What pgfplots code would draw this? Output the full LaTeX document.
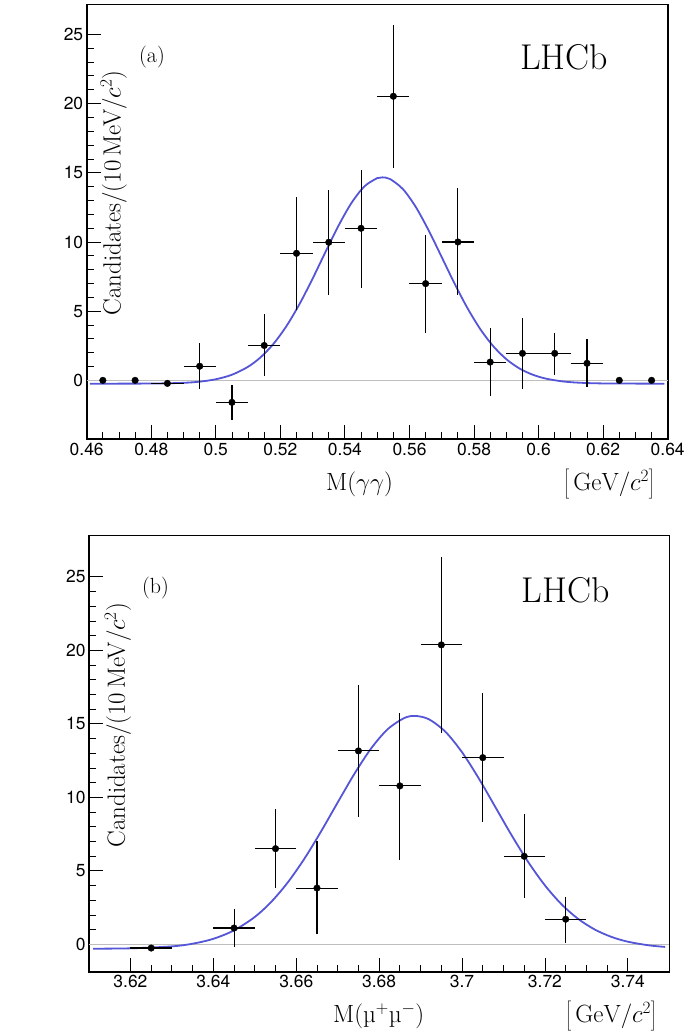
\documentclass[border=0pt]{standalone}
\usepackage{pgfplots}
\pgfplotsset{compat=1.18}
\usepackage{pgfplotstable}
\usepackage{fontspec}
\newfontfamily\helv{TeX Gyre Heros}
\definecolor{fitblue}{RGB}{85,85,215}
\definecolor{zerogray}{RGB}{190,190,190}

\pgfplotstableread{
x y ex eyp eym
0.465 0 0 0 0
0.475 0 0 0 0
0.485 -0.22 0.005 0 0
0.495 1.02 0.005 1.65 1.67
0.505 -1.59 0.005 1.23 1.27
0.515 2.52 0.005 2.24 2.21
0.525 9.18 0.005 4.05 4.06
0.535 9.98 0.005 3.81 3.83
0.545 10.99 0.005 4.24 4.31
0.555 20.53 0.005 5.17 5.18
0.565 6.99 0.005 3.54 3.55
0.575 10.00 0.005 3.90 3.85
0.585 1.32 0.005 2.48 2.45
0.595 1.95 0.005 2.57 2.60
0.605 1.95 0.005 1.49 1.57
0.615 1.23 0.005 1.73 1.71
0.625 0 0 0 0
0.635 0 0 0 0
}\dataA

\pgfplotstableread{
x y
0.461 -0.240
0.480 -0.231
0.490 -0.178
0.495 -0.095
0.500 0.078
0.505 0.406
0.510 0.982
0.514 1.692
0.518 2.676
0.522 3.963
0.526 5.542
0.530 7.357
0.534 9.289
0.538 11.172
0.542 12.811
0.546 14.010
0.550 14.615
0.5516 14.670
0.554 14.546
0.558 13.813
0.562 12.513
0.566 10.808
0.570 8.901
0.574 6.980
0.578 5.205
0.582 3.681
0.586 2.456
0.590 1.530
0.594 0.869
0.598 0.424
0.602 0.139
0.607 -0.063
0.612 -0.163
0.620 -0.223
0.639 -0.240
}\fitA

\pgfplotstableread{
x y ex eyp eym
3.625 -0.25 0.005 0 0
3.645 1.11 0.005 1.29 1.31
3.655 6.51 0.005 2.70 2.68
3.665 3.83 0.005 3.18 3.13
3.675 13.16 0.005 4.49 4.50
3.685 10.78 0.005 4.94 5.04
3.695 20.37 0.005 6.00 6.01
3.705 12.70 0.005 4.38 4.35
3.715 5.99 0.005 2.86 2.85
3.725 1.71 0.005 1.54 1.59
}\dataB

\pgfplotstableread{
x y
3.611 -0.295
3.620 -0.270
3.630 -0.137
3.635 0.044
3.640 0.378
3.645 0.953
3.650 1.865
3.654 2.900
3.658 4.229
3.662 5.844
3.666 7.688
3.670 9.654
3.674 11.586
3.678 13.305
3.682 14.623
3.686 15.388
3.6887 15.540
3.692 15.312
3.696 14.458
3.700 13.069
3.704 11.306
3.708 9.356
3.712 7.401
3.716 5.585
3.720 4.010
3.724 2.725
3.728 1.735
3.732 1.012
3.736 0.511
3.740 0.180
3.745 -0.065
3.749 -0.174
}\fitB

\pgfplotsset{
  lhcbaxis/.style={
    scale only axis,
    axis line style={line width=1.6bp},
    tick align=inside,
    xtick pos=left, ytick pos=left,
    major tick length=14bp, minor tick length=7bp,
    every tick/.style={black, line width=0.9bp},
    tick label style={font=\helv\fontsize{17.5}{17.5}\selectfont},
    /pgf/number format/assume math mode=true,
    minor x tick num=3, minor y tick num=4,
    clip=false,
  },
  datastyle/.style={only marks, mark=*, mark size=3.3bp, black,
    mark options={fill=black, draw=black},
    error bars/.cd, x dir=both, x explicit, y dir=both, y explicit,
    error mark=none, error bar style={line width=1.1bp, black}},
}

\newcommand{\labfont}{\fontsize{25}{30}\selectfont}

\begin{document}
\begin{tikzpicture}
\path[use as bounding box] (0,0) rectangle (685bp,1032bp);

% ---------------- panel (a)
\begin{axis}[lhcbaxis,
  at={(86.7bp,592.7bp)}, anchor=south west,
  width=581bp, height=434.6bp,
  xmin=0.46, xmax=0.64, ymin=-4.26, ymax=27.15,
  xtick={0.46,0.48,...,0.641}, ytick={0,5,...,25},
  xticklabels={0.46,0.48,0.5,0.52,0.54,0.56,0.58,0.6,0.62,0.64},
]
\addplot[zerogray, line width=1.1bp, forget plot] coordinates {(0.46,0) (0.64,0)};
\addplot[fitblue, line width=1.8bp, smooth] table[x=x,y=y] {\fitA};
\addplot[datastyle] table[x=x, y=y, x error=ex, y error plus=eyp, y error minus=eym] {\dataA};
\node[anchor=west, inner sep=0] at (rel axis cs:0,1) [xshift=52.3bp, yshift=-52.3bp] {\fontsize{22}{26}\selectfont (a)};
\node[anchor=west, inner sep=0] at (rel axis cs:0,1) [xshift=433.3bp, yshift=-52.3bp] {\fontsize{36}{40}\selectfont LHCb};
\node[anchor=base west, inner sep=0] at (rel axis cs:0,0) [xshift=239.3bp, yshift=-51bp] {\labfont M($\gamma\gamma$)};
\node[anchor=base east, inner sep=0] at (rel axis cs:1,0) [xshift=-12.7bp, yshift=-51bp] {\labfont $\left[\,\mathrm{GeV}/c^{2}\right]$};
\node[rotate=90, anchor=east, inner sep=0] at (rel axis cs:0,1) [xshift=-65.7bp, yshift=-27bp] {\labfont Candidates$/$(10\,MeV$/c^{2}$)};
\end{axis}

% ---------------- panel (b)
\begin{axis}[lhcbaxis,
  at={(89bp,60.3bp)}, anchor=south west,
  width=580.3bp, height=436bp,
  xmin=3.61, xmax=3.75, ymin=-1.86, ymax=27.8,
  xtick={3.62,3.64,...,3.741}, ytick={0,5,...,25},
  xticklabels={3.62,3.64,3.66,3.68,3.7,3.72,3.74},
]
\addplot[zerogray, line width=1.1bp, forget plot] coordinates {(3.61,0) (3.75,0)};
\addplot[fitblue, line width=1.8bp, smooth] table[x=x,y=y] {\fitB};
\addplot[datastyle] table[x=x, y=y, x error=ex, y error plus=eyp, y error minus=eym] {\dataB};
\node[anchor=west, inner sep=0] at (rel axis cs:0,1) [xshift=53bp, yshift=-52.3bp] {\fontsize{22}{26}\selectfont (b)};
\node[anchor=west, inner sep=0] at (rel axis cs:0,1) [xshift=432.7bp, yshift=-55bp] {\fontsize{36}{40}\selectfont LHCb};
\node[anchor=base west, inner sep=0] at (rel axis cs:0,0) [xshift=244bp, yshift=-51bp] {\labfont M(µ$^{+}$µ$^{-}$)};
\node[anchor=base east, inner sep=0] at (rel axis cs:1,0) [xshift=-12.3bp, yshift=-51bp] {\labfont $\left[\,\mathrm{GeV}/c^{2}\right]$};
\node[rotate=90, anchor=east, inner sep=0] at (rel axis cs:0,1) [xshift=-67bp, yshift=-29bp] {\labfont Candidates$/$(10\,MeV$/c^{2}$)};
\end{axis}
\end{tikzpicture}
\end{document}
